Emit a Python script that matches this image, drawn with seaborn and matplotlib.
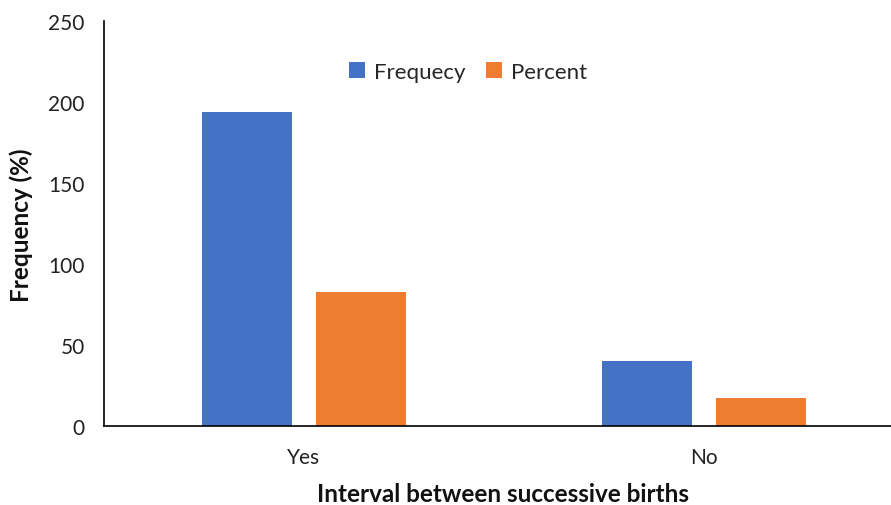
import matplotlib
matplotlib.use("Agg")
import matplotlib.pyplot as plt
import seaborn as sns
import pandas as pd

categories = ["Yes", "No"]
series = ["Frequecy", "Percent"]
frequency = [194, 40]
percent = [82.9, 17.1]
y_ticks = [0, 50, 100, 150, 200, 250]

df = pd.DataFrame({
    "Interval": categories * 2,
    "Series": [series[0]] * len(categories) + [series[1]] * len(categories),
    "Value": frequency + percent,
})

sns.set_style("white")
plt.rcParams["font.family"] = ["Lato", "DejaVu Sans"]

fig = plt.figure(figsize=(8.91, 5.06), dpi=100)
ax = fig.add_axes([104 / 891, 1 - 427 / 506, 800 / 891, 405 / 506])

sns.barplot(data=df, x="Interval", y="Value", hue="Series",
            palette=["#4472C4", "#ED7D31"], width=0.568, gap=0.21,
            order=categories, hue_order=series, ax=ax, saturation=1,
            edgecolor="none")

ax.set_xlim(-0.5, 1.5)
ax.set_ylim(0, 250)
ax.set_yticks(y_ticks)
ax.tick_params(axis="both", length=0, labelsize=15, colors="#222222")
ax.tick_params(axis="x", pad=15)
ax.tick_params(axis="y", pad=14)
for s in ["top", "right"]:
    ax.spines[s].set_visible(False)
for s in ["left", "bottom"]:
    ax.spines[s].set_color("black")
    ax.spines[s].set_linewidth(1.2)

# axis titles placed in figure coordinates
ax.set_xlabel("")
ax.set_ylabel("")
fig.text(503 / 891, 1 - 495 / 506, "Interval between successive births",
         fontsize=17.5, fontweight="bold", ha="center", va="center",
         color="#111111")
fig.text(21 / 891, 1 - 225 / 506, "Frequency (%)", fontsize=17.5,
         fontweight="bold", ha="center", va="center", rotation=90,
         color="#111111")

leg = ax.legend(loc="center", bbox_to_anchor=(468 / 891, 1 - 73 / 506),
                bbox_transform=fig.transFigure, ncol=2, frameon=False,
                fontsize=16, handlelength=0.75, handleheight=0.75,
                handletextpad=0.4, columnspacing=0.9)

fig.savefig("out.png", dpi=100)
